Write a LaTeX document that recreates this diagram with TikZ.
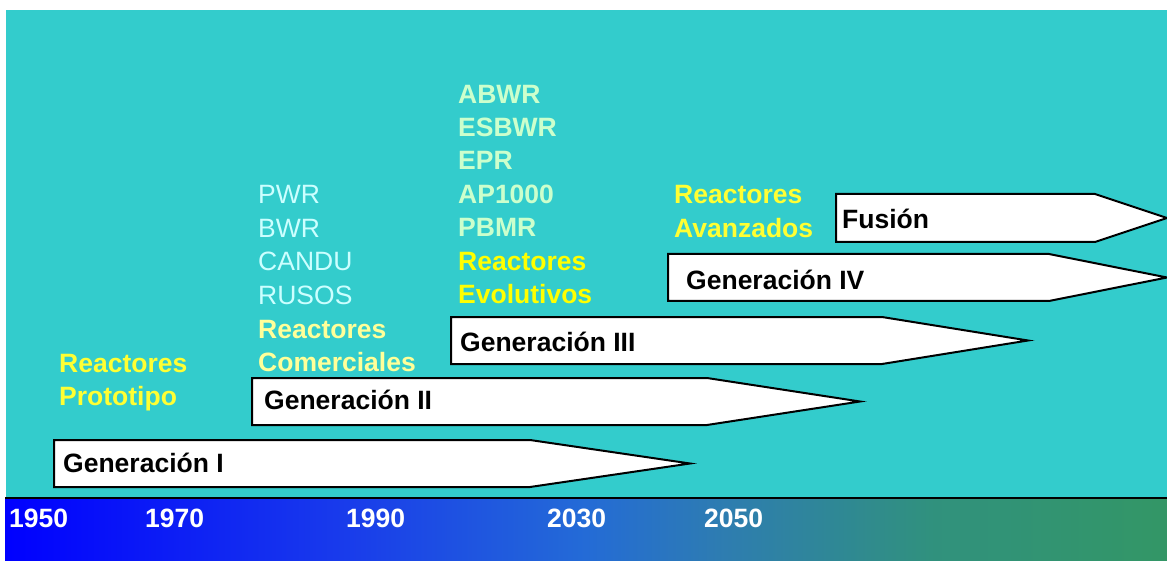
\documentclass[tikz,border=0pt]{standalone}
\usepackage{fontspec}
\setmainfont{Liberation Sans}
\definecolor{turq}{RGB}{51,204,204}
\definecolor{paleCyan}{RGB}{204,255,255}
\definecolor{paleGreen}{RGB}{204,255,204}
\definecolor{yelA}{RGB}{255,255,51}
\definecolor{yelB}{RGB}{255,255,153}
\definecolor{yelC}{RGB}{255,255,0}
\pgfdeclarehorizontalshading{barshade}{100bp}{rgb(0bp)=(0,0,1); rgb(25bp)=(0,0,1); rgb(40bp)=(0.1,0.24,0.92); rgb(50bp)=(0.14,0.42,0.84); rgb(56bp)=(0.18,0.49,0.69); rgb(65bp)=(0.19,0.57,0.49); rgb(75bp)=(0.2,0.59,0.4); rgb(100bp)=(0.2,0.59,0.4)}
\begin{document}
\begin{tikzpicture}[x=1pt,y=-1pt,
  txt/.style={anchor=base west,inner sep=0pt,font=\fontsize{26.5}{34}\selectfont},
  boldtxt/.style={txt,font=\fontsize{26.5}{34}\selectfont\bfseries},
  genlabel/.style={boldtxt,text=black},
  yearlabel/.style={boldtxt,text=white},
  genarrow/.style={draw=black,line width=2pt,fill=white,line join=miter}]
\useasboundingbox (0,0) rectangle (1167,561);
\fill[white] (0,0) rectangle (1167,561);
\fill[turq] (6,10) rectangle (1167,498);
\shade[shading=barshade] (5,498) rectangle (1167,561);
\draw[line width=2pt] (5,498) -- (1167,498);

% generation arrows
\draw[genarrow] (54,440) -- (530,440) -- (690,463.5) -- (530,487) -- (54,487) -- cycle;
\draw[genarrow] (252,378) -- (707,378) -- (860,401.5) -- (707,425) -- (252,425) -- cycle;
\draw[genarrow] (451,317) -- (882,317) -- (1028,340.5) -- (882,364) -- (451,364) -- cycle;
\draw[genarrow] (668,254) -- (1049,254) -- (1167,277.5) -- (1049,301) -- (668,301) -- cycle;
\draw[genarrow] (836,194) -- (1095,194) -- (1167,218) -- (1095,242) -- (836,242) -- cycle;

\node[genlabel] (g1) at (63,472) {Generación I};
\node[genlabel] (g2) at (264,409) {Generación II};
\node[genlabel] (g3) at (460,351) {Generación III};
\node[genlabel] (g4) at (686,290) {Generación IV};
\node[genlabel] (g5) at (842,229) {Fusión};

% group I
\node[boldtxt,text=yelA] (p1) at (59,372) {Reactores};
\node[boldtxt,text=yelA] (p2) at (59,405) {Prototipo};

% group II
\node[txt,text=paleCyan] (c1) at (258,204) {PWR};
\node[txt,text=paleCyan] (c2) at (258,238) {BWR};
\node[txt,text=paleCyan] (c3) at (258,271) {CANDU};
\node[txt,text=paleCyan] (c4) at (258,304.5) {RUSOS};
\node[boldtxt,text=yelB] (c5) at (258,338) {Reactores};
\node[boldtxt,text=yelB] (c6) at (258,371.5) {Comerciales};

% group III
\node[boldtxt,text=paleGreen] (e1) at (458,104) {ABWR};
\node[boldtxt,text=paleGreen] (e2) at (458,137) {ESBWR};
\node[boldtxt,text=paleGreen] (e3) at (458,170) {EPR};
\node[boldtxt,text=paleGreen] (e4) at (458,203.5) {AP1000};
\node[boldtxt,text=paleGreen] (e5) at (458,237) {PBMR};
\node[boldtxt,text=yelC] (e6) at (458,270.5) {Reactores};
\node[boldtxt,text=yelC] (e7) at (458,304) {Evolutivos};

% group IV
\node[boldtxt,text=yelA] (a1) at (674,204) {Reactores};
\node[boldtxt,text=yelA] (a2) at (674,237.5) {Avanzados};

% years
\node[yearlabel] (y1) at (9,527) {1950};
\node[yearlabel] (y2) at (145,527) {1970};
\node[yearlabel] (y3) at (346,527) {1990};
\node[yearlabel] (y4) at (547,527) {2030};
\node[yearlabel] (y5) at (704,527) {2050};
\end{tikzpicture}
\end{document}
